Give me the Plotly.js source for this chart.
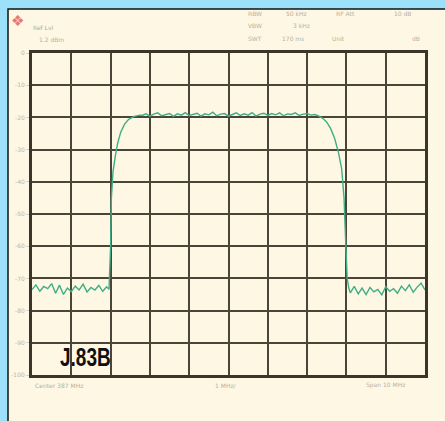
<!DOCTYPE html>
<html>
<head>
<meta charset="utf-8">
<script src="https://cdn.plot.ly/plotly-3.0.1.min.js"></script>
<style>
html,body{margin:0;padding:0;background:#9ce0fa;}
#chart{width:445px;height:421px;}
</style>
</head>
<body>
<div id="chart"></div>
<script>
// Frequency (MHz) and level (dB)
const freqLeftNoise = [382.0,382.1,382.2,382.3,382.4,382.5,382.6,382.7,382.8,382.9,383.0,383.1,383.2,383.3,383.4,383.5,383.6,383.7,383.8,383.9,383.96];
const levelLeftNoise = [-73.5,-72.0,-74.0,-72.5,-73.2,-71.6,-74.6,-72.1,-75.0,-73.0,-74.1,-72.4,-73.6,-71.8,-74.2,-72.8,-73.6,-72.2,-74.0,-72.6,-73.4];
const freqRiseEdge = [384.0,384.02,384.06,384.12,384.18,384.26,384.36,384.46,384.6,384.75];
const levelRiseEdge = [-60,-45,-37,-32,-28,-24.5,-22,-20.6,-19.7,-19.3];
const freqPlateau = [384.8,384.9,385.0,385.1,385.2,385.3,385.4,385.5,385.6,385.7,385.8,385.9,386.0,386.1,386.2,386.3,386.4,386.5,386.6,386.7,386.8,386.9,387.0,387.1,387.2,387.3,387.4,387.5,387.6,387.7,387.8,387.9,388.0,388.1,388.2,388.3,388.4,388.5,388.6,388.7,388.8,388.9,389.0,389.1,389.2];
const levelPlateau = [-19.4,-18.9,-19.6,-19.0,-18.6,-19.5,-19.1,-18.8,-19.7,-18.9,-19.3,-18.5,-19.4,-19.0,-18.7,-19.6,-18.9,-19.2,-18.4,-19.5,-19.0,-18.8,-19.6,-19.1,-18.6,-19.4,-18.9,-19.3,-18.5,-19.6,-19.0,-18.7,-19.4,-18.8,-19.2,-18.6,-19.5,-18.9,-19.1,-18.6,-19.4,-19.0,-18.8,-19.3,-19.1];
const freqFallEdge = [389.3,389.4,389.5,389.6,389.7,389.8,389.88,389.94,389.98,390.02,390.06];
const levelFallEdge = [-19.6,-20.3,-21.5,-23.5,-26.5,-31,-36,-45,-58,-70,-73];
const freqRightNoise = [390.1,390.2,390.3,390.4,390.5,390.6,390.7,390.8,390.9,391.0,391.1,391.2,391.3,391.4,391.5,391.6,391.7,391.8,391.9,392.0];
const levelRightNoise = [-74.5,-72.5,-74.8,-73.0,-75.0,-72.8,-74.2,-73.4,-75.1,-72.6,-74.0,-73.2,-74.6,-72.4,-73.8,-72.0,-74.3,-72.7,-71.5,-73.6];

const yTickVals = [0,-10,-20,-30,-40,-50,-60,-70,-80,-90,-100];
const yTickText = ["0","-10","-20","-30","-40","-50","-60","-70","-80","-90","-100"];
const xRange = [382, 392];
const yRange = [-100, 0];

const freq = [].concat(freqLeftNoise, freqRiseEdge, freqPlateau, freqFallEdge, freqRightNoise);
const level = [].concat(levelLeftNoise, levelRiseEdge, levelPlateau, levelFallEdge, levelRightNoise);

// plot area in pixels
const L = 32, R = 425, T = 53, B = 375, W = 445, H = 421;
const px = x => (x - L) / (R - L);
const py = y => (B - y) / (B - T);

function note(text, x, y, opts) {
  return Object.assign({
    text: text, xref: 'paper', yref: 'paper', x: px(x), y: py(y),
    xanchor: 'left', yanchor: 'middle', showarrow: false,
    font: {family: 'DejaVu Sans', size: 6, color: '#b9b1a1'}
  }, opts || {});
}

const trace = {
  x: freq, y: level, type: 'scatter', mode: 'lines',
  line: {color: '#3fae86', width: 1.4},
  hoverinfo: 'skip'
};

const layout = {
  width: W, height: H,
  margin: {l: L, r: W - R, t: T, b: H - B, pad: 0},
  paper_bgcolor: '#9ce0fa',
  plot_bgcolor: '#fdf7e3',
  showlegend: false,
  xaxis: {
    range: xRange, dtick: 1, tick0: 382, showticklabels: false,
    showgrid: true, gridcolor: '#4b4438', gridwidth: 2,
    zeroline: false, showline: true, mirror: true, linecolor: '#3b342a', linewidth: 3,
    ticks: '', fixedrange: true
  },
  yaxis: {
    range: yRange, tickvals: yTickVals, ticktext: yTickText,
    tickfont: {family: 'DejaVu Sans', size: 6, color: '#bdb5a5'},
    showgrid: true, gridcolor: '#4b4438', gridwidth: 2,
    zeroline: false, showline: true, mirror: true, linecolor: '#3b342a', linewidth: 3,
    ticks: 'outside', ticklen: 3, tickcolor: '#d8d0c0', fixedrange: true
  },
  shapes: [
    {type: 'rect', xref: 'paper', yref: 'paper', layer: 'below',
     x0: px(8), x1: px(W + 5), y0: py(9), y1: py(H + 5),
     fillcolor: '#fdf7e3', line: {color: '#111111', width: 1.5}}
  ],
  annotations: [
    note('❖', 9, 21, {font: {family: 'DejaVu Sans', size: 15, color: '#e37a78'}}),
    note('Ref Lvl', 31, 28, {font: {family: 'DejaVu Sans', size: 6, color: '#a6b19a'}}),
    note('1.2 dBm', 37, 40),
    note('RBW', 246, 14), note('50 kHz', 284, 14), note('RF Att', 334, 14), note('10 dB', 392, 14),
    note('VBW', 246, 25), note('3 kHz', 291, 25),
    note('SWT', 246, 38), note('170 ms', 280, 38), note('Unit', 330, 38), note('dB', 410, 38),
    note('Center 387 MHz', 33, 385),
    note('1 MHz/', 213, 385),
    note('Span 10 MHz', 364, 385),
    note('J.83B', 58, 357, {font: {family: 'Liberation Sans, Arial', size: 25, color: '#111111', weight: 'bold'}})
  ]
};

Plotly.newPlot('chart', [trace], layout, {displayModeBar: false, staticPlot: true}).then(function (gd) {
  // condense the J.83B label horizontally, keeping its left edge
  gd.querySelectorAll('.annotation-text').forEach(function (t) {
    if (t.textContent === 'J.83B') {
      const bb = t.getBBox();
      const x0 = bb.x;
      t.setAttribute('transform', 'translate(' + x0 + ',0) scale(0.76,1) translate(' + (-x0) + ',0)');
    }
  });
});
</script>
</body>
</html>
